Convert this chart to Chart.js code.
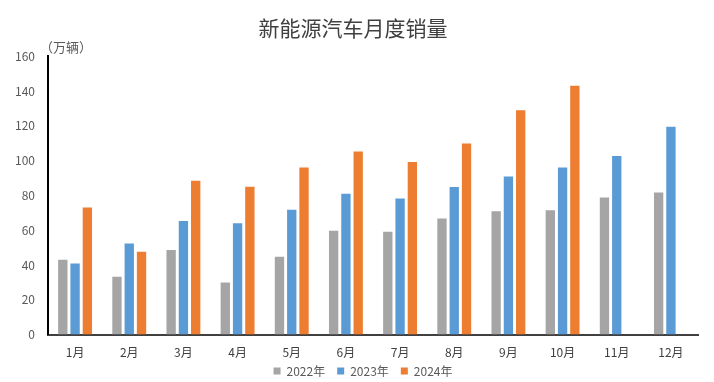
<!DOCTYPE html>
<html>
<head>
<meta charset="utf-8">
<script src="https://cdn.jsdelivr.net/npm/chart.js@4/dist/chart.umd.min.js"></script>
<style>
  html, body { margin: 0; padding: 0; background: #fff; }
  #wrap { width: 714px; height: 382px; }
</style>
</head>
<body>
<div id="wrap"><canvas id="canvas" width="714" height="382"></canvas></div>
<script>
const months = ["1月", "2月", "3月", "4月", "5月", "6月", "7月", "8月", "9月", "10月", "11月", "12月"];
const sales2022 = [43, 33.3, 48.6, 30, 44.7, 59.7, 59.1, 66.7, 70.9, 71.5, 78.8, 81.7];
const sales2023 = [40.8, 52.4, 65.3, 64, 71.7, 80.9, 78.2, 84.8, 90.8, 96, 102.7, 119.5];
const sales2024 = [73, 47.6, 88.4, 85, 96, 105.2, 99.2, 109.8, 128.9, 143, null, null];
const yTicks = [0, 20, 40, 60, 80, 100, 120, 140, 160];

const FONT = "'Noto Sans CJK SC', 'Noto Sans', sans-serif";

// unit label above the y axis
const unitLabel = {
  id: "unitLabel",
  afterDraw(chart) {
    const ctx = chart.ctx;
    const y = chart.scales.y;
    ctx.save();
    ctx.font = "13px " + FONT;
    ctx.fillStyle = "#595959";
    ctx.textBaseline = "middle";
    ctx.fillText("（万辆）", y.right - 8, chart.chartArea.top - 9);
    ctx.restore();
  }
};

// pull the legend closer to the month labels, slightly right of centre
const legendNudge = {
  id: "legendNudge",
  afterLayout(chart) {
    const lg = chart.legend;
    if (lg) {
      lg.top -= 18;
      lg.bottom -= 18;
      lg.left += 10;
      lg.right += 10;
    }
  }
};

new Chart(document.getElementById("canvas"), {
  type: "bar",
  data: {
    labels: months,
    datasets: [
      { label: "2022年", data: sales2022, backgroundColor: "#A5A5A5" },
      { label: "2023年", data: sales2023, backgroundColor: "#5B9BD5" },
      { label: "2024年", data: sales2024, backgroundColor: "#ED7D31" }
    ]
  },
  options: {
    responsive: false,
    animation: false,
    layout: { padding: { left: 8, right: 16, top: 8, bottom: -23 } },
    datasets: {
      bar: { categoryPercentage: 0.68, barPercentage: 0.76 }
    },
    plugins: {
      title: {
        display: true,
        text: "新能源汽车月度销量",
        color: "#404040",
        font: { family: FONT, size: 21, weight: "normal" },
        padding: { top: 7, bottom: 16 }
      },
      legend: {
        position: "bottom",
        labels: {
          boxWidth: 7,
          boxHeight: 7,
          padding: 12,
          color: "#595959",
          font: { family: FONT, size: 12 }
        }
      },
      tooltip: { enabled: false }
    },
    scales: {
      x: {
        grid: { display: false, drawTicks: false },
        border: { color: "#404040", width: 2 },
        ticks: { color: "#404040", font: { family: FONT, size: 12 }, padding: 11 }
      },
      y: {
        min: 0,
        max: 160,
        afterFit(scale) { scale.width = 40; },
        afterBuildTicks(scale) { scale.ticks = yTicks.map(v => ({ value: v })); },
        grid: { display: false, drawTicks: false },
        border: { color: "#000", width: 2 },
        ticks: { color: "#595959", font: { family: FONT, size: 12 }, padding: 13 }
      }
    }
  },
  plugins: [unitLabel, legendNudge]
});
</script>
</body>
</html>
